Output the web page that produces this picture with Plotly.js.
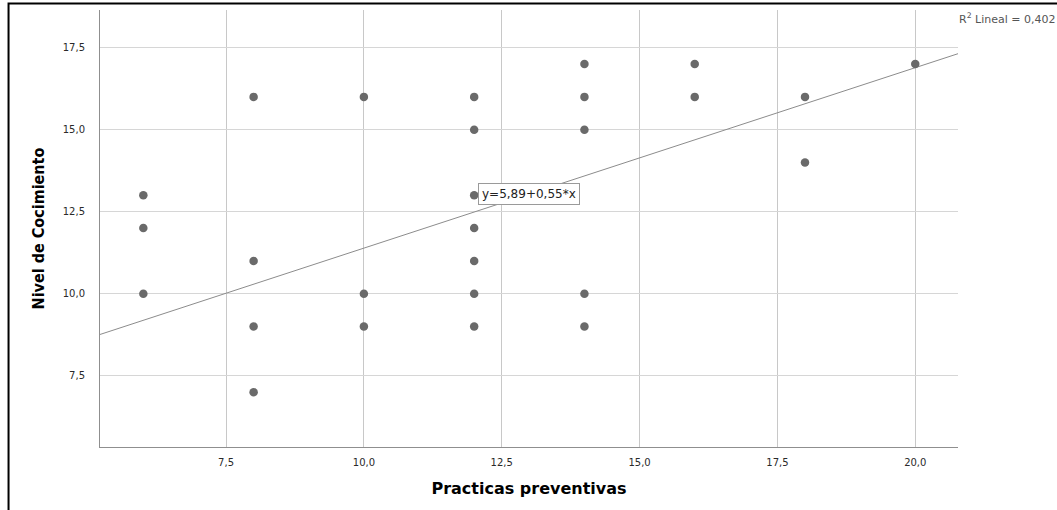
<!DOCTYPE html>
<html>
<head>
<meta charset="utf-8">
<script src="https://cdn.plot.ly/plotly-3.0.1.min.js"></script>
<style>
  html, body { margin: 0; padding: 0; background: #ffffff; }
  #chart { width: 1057px; height: 510px; }
</style>
</head>
<body>
<div id="chart"></div>
<script>
// Data
const practicas = [6, 6, 6, 8, 8, 8, 8, 10, 10, 10, 12, 12, 12, 12, 12, 12, 12, 14, 14, 14, 14, 14, 16, 16, 18, 18, 20];
const nivel     = [13, 12, 10, 16, 11, 9, 7, 16, 10, 9, 16, 15, 13, 12, 11, 10, 9, 17, 16, 15, 10, 9, 17, 16, 16, 14, 17];

// Fit line stated on the chart: y = 5,89 + 0,55*x ; R2 = 0,402
const intercept = 5.89;
const slope = 0.55;
const r2Label = "R<sup>2</sup> Lineal = 0,402";
const fitLabel = "y=5,89+0,55*x";

const xRange = [5.214, 20.775];
const yRange = [5.328, 18.648];
const xTicks = [7.5, 10, 12.5, 15, 17.5, 20];
const yTicks = [7.5, 10, 12.5, 15, 17.5];

const fitX = xRange.slice();
const fitY = fitX.map(v => intercept + slope * v);

const traces = [
  {
    x: fitX, y: fitY, type: 'scatter', mode: 'lines',
    line: { color: '#8c8c8c', width: 1 },
    hoverinfo: 'skip', showlegend: false
  },
  {
    x: practicas, y: nivel, type: 'scatter', mode: 'markers',
    marker: { color: '#6a6a6a', size: 8.5, symbol: 'circle', line: { width: 0 } },
    showlegend: false
  }
];

const layout = {
  width: 1057, height: 510,
  margin: { l: 100, r: 99, t: 10, b: 63 },
  paper_bgcolor: '#ffffff', plot_bgcolor: '#ffffff',
  separators: ',.',
  showlegend: false,
  font: { family: 'DejaVu Sans, sans-serif', size: 10, color: '#333333' },
  xaxis: {
    range: xRange, tickvals: xTicks, tickformat: '.1f',
    showgrid: true, gridcolor: '#c8c8c8', gridwidth: 1,
    zeroline: false, showline: true, linecolor: '#8f8f8f', linewidth: 1,
    ticks: '', ticklabelstandoff: 6,
    tickfont: { family: 'DejaVu Sans, sans-serif', size: 10, color: '#2a2a2a' },
    title: { text: 'Practicas preventivas', standoff: 15,
             font: { family: 'DejaVu Sans, sans-serif', size: 16, color: '#000000', weight: 'bold' } },
    automargin: false
  },
  yaxis: {
    range: yRange, tickvals: yTicks, tickformat: '.1f',
    showgrid: true, gridcolor: '#d6d6d6', gridwidth: 1,
    zeroline: false, showline: true, linecolor: '#8f8f8f', linewidth: 1,
    ticks: '', ticklabelstandoff: 12,
    tickfont: { family: 'DejaVu Sans, sans-serif', size: 10, color: '#2a2a2a' },
    title: { text: 'Nivel de Cocimiento', standoff: 14,
             font: { family: 'DejaVu Sans Condensed, Liberation Sans, sans-serif', size: 16, color: '#000000', weight: 'bold' } },
    automargin: false
  },
  annotations: [
    {
      x: 13.0, y: 13.04, xref: 'x', yref: 'y',
      text: fitLabel, showarrow: false,
      font: { family: 'DejaVu Sans, sans-serif', size: 12, color: '#222222' },
      bgcolor: '#ffffff', bordercolor: '#9a9a9a', borderwidth: 1, borderpad: 3,
      xanchor: 'center', yanchor: 'middle'
    },
    {
      x: 0.999, y: 0.981, xref: 'paper', yref: 'paper',
      text: r2Label, showarrow: false,
      font: { family: 'DejaVu Sans, sans-serif', size: 11, color: '#555555' },
      xanchor: 'left', yanchor: 'middle'
    }
  ],
  shapes: [
    {
      type: 'path', xref: 'paper', yref: 'paper',
      path: 'M -0.1066,-0.2 L -0.1066,1.0149 L 1.2,1.0149',
      line: { color: '#000000', width: 2 }
    }
  ]
};

Plotly.newPlot('chart', traces, layout, { displayModeBar: false, staticPlot: true });
</script>
</body>
</html>
